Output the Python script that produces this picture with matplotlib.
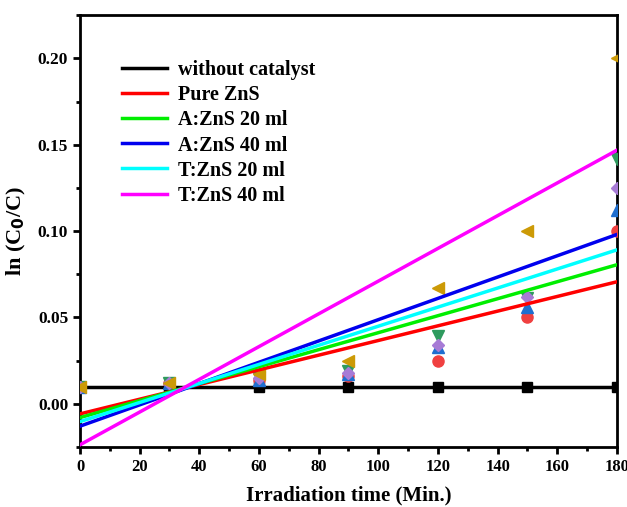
import numpy as np
import matplotlib.pyplot as plt
from matplotlib.lines import Line2D

plt.rcParams['font.family'] = 'Liberation Serif'
plt.rcParams['font.weight'] = 'bold'

# Irradiation time (min) and ln(C0/C) for each sample
t = np.array([0, 30, 60, 90, 120, 150, 180])
blank = np.array([0.010, 0.010, 0.010, 0.010, 0.010, 0.010, 0.010])
pure = np.array([0.010, 0.012, 0.014, 0.016, 0.025, 0.050, 0.100])
a20 = np.array([0.010, 0.012, 0.014, 0.017, 0.033, 0.056, 0.112])
a40 = np.array([0.010, 0.012, 0.015, 0.019, 0.039, 0.061, 0.142])
t20 = np.array([0.010, 0.012, 0.015, 0.018, 0.034, 0.062, 0.125])
t40 = np.array([0.010, 0.012, 0.017, 0.025, 0.067, 0.100, 0.200])

labels = ['without catalyst', 'Pure ZnS', 'A:ZnS 20 ml', 'A:ZnS 40 ml',
          'T:ZnS 20 ml', 'T:ZnS 40 ml']
line_colors = ['black', '#ff0000', '#00ee00', '#0000ee', '#00ffff', '#ff00ff']
series = [pure, a20, a40, t20, t40]
point_style = [('o', '#f04040'), ('^', '#1f6fd0'), ('v', '#2e9a5e'),
               ('D', '#a77bd6'), ('<', '#cc9a06')]

fig = plt.figure(figsize=(6.27, 5.07), dpi=100)
ax = fig.add_axes([0.1276, 0.1183, 0.8564, 0.8517])

ax.plot(t, blank, color='black', lw=2.5, marker='s', ms=7, zorder=2)
for y, (m, c) in zip(series, point_style):
    ms = 6 if m == 'D' else 8
    ax.plot(t, y, ls='none', marker=m, color=c, ms=ms, zorder=3)

# linear fits
xx = np.array([0, 180])
for y, c in zip(series, line_colors[1:]):
    k, b = np.polyfit(t, y, 1)
    ax.plot(xx, k * xx + b, color=c, lw=2.5, zorder=4)

ax.set_xlim(0, 180)
ax.set_ylim(-0.0236, 0.2247)
ax.set_xticks(np.arange(0, 181, 20))
ax.set_xticks(np.arange(10, 181, 20), minor=True)
ax.set_yticks([0.00, 0.05, 0.10, 0.15, 0.20])
ax.set_yticks([-0.025, 0.025, 0.075, 0.125, 0.175, 0.225], minor=True)
ax.set_yticklabels(['0.00', '0.05', '0.10', '0.15', '0.20'])
ax.tick_params(which='major', direction='out', length=5, width=2, labelsize=12.5)
ax.tick_params(axis='x', which='major', labelsize=12)
ax.tick_params(which='minor', direction='out', length=3, width=2)
for s in ax.spines.values():
    s.set_linewidth(2)

ax.set_xlabel('Irradiation time (Min.)', fontsize=15, fontweight='bold', labelpad=8)
ax.set_ylabel('ln (C$_\\mathbf{0}$/C)', fontsize=16, fontweight='bold', labelpad=7)

handles = [Line2D([], [], color=c, lw=2.5) for c in line_colors]
ax.legend(handles, labels, loc='upper left', bbox_to_anchor=(0.0625, 0.914),
          frameon=False, fontsize=14.5, handlelength=2.25, labelspacing=0.25,
          handletextpad=0.55, borderaxespad=0)

fig.savefig('out.png', dpi=100)
